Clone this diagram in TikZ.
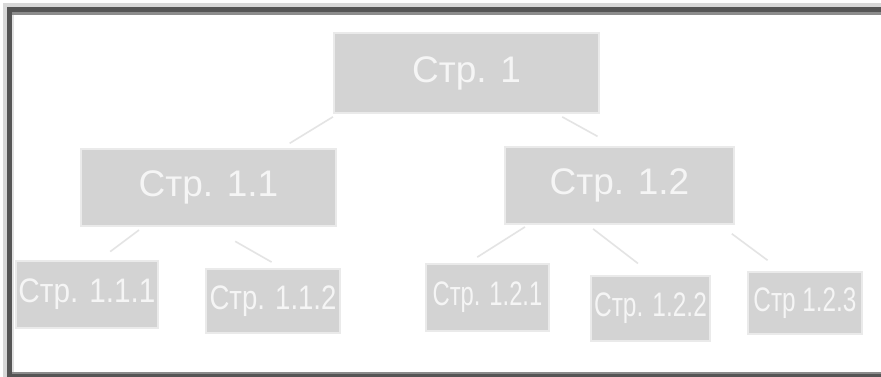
\documentclass[tikz,border=0pt]{standalone}
\usepackage{fontspec}
\usepackage{graphicx}
\setmainfont{Liberation Sans}
\usetikzlibrary{calc}

\definecolor{boxfill}{HTML}{D3D3D3}
\definecolor{boxedge}{HTML}{EAEAEA}
\definecolor{linkcol}{HTML}{E4E4E4}
\definecolor{framedark}{HTML}{555555}
\definecolor{framemid}{HTML}{8C8C8C}
\definecolor{framelight}{HTML}{D8D8D8}

% horizontally condensed label
\newcommand{\narrowtxt}[2]{\scalebox{#1}[1]{#2}}

\tikzset{
  page/.style={fill=boxfill, draw=boxedge, line width=2pt, inner sep=0pt,
               anchor=north west, text=white!96!black},
  bigpage/.style={page, font=\fontsize{37}{37}\selectfont},
  smallpage/.style={page, font=\fontsize{34}{34}\selectfont},
  link/.style={draw=linkcol, line width=1.6pt},
}

\begin{document}
\begin{tikzpicture}[x=1pt, y=-1pt]
  \useasboundingbox (0,0) rectangle (881,377);
  \fill[white] (0,0) rectangle (881,377);

  % sunken frame
  \fill[framelight] (3,3) rectangle (881,7);
  \fill[framelight] (3,3) rectangle (7,377);
  \fill[framedark] (7,7) rectangle (881,12);
  \fill[framedark] (7,7) rectangle (12,377);
  \fill[framemid] (12,12) rectangle (881,15);
  \fill[framelight!80!white] (12,15) rectangle (14,372);
  \fill[framemid] (12,372) rectangle (881,374);
  \fill[framedark] (12,374) rectangle (881,377);

  % page boxes
  \node[bigpage, minimum width=265pt, minimum height=80pt] (n1) at (333,32) {Стр. 1};
  \node[bigpage, minimum width=255pt, minimum height=77pt] (n11) at (80,148) {Стр. 1.1};
  \node[bigpage, minimum width=229pt, minimum height=77pt] (n12) at (504,146) {Стр. 1.2};

  \node[smallpage, minimum width=142pt, minimum height=67pt] (n111) at (15,260) {\narrowtxt{0.875}{Стр. 1.1.1}};
  \node[smallpage, minimum width=134pt, minimum height=64pt] (n112) at (205,268) {\narrowtxt{0.81}{Стр. 1.1.2}};
  \node[smallpage, minimum width=123pt, minimum height=67pt] (n121) at (425,263) {\narrowtxt{0.70}{Стр. 1.2.1}};
  \node[smallpage, minimum width=119pt, minimum height=65pt] (n122) at (590,275) {\narrowtxt{0.72}{Стр. 1.2.2}};
  \node[smallpage, minimum width=114pt, minimum height=62pt] (n123) at (747,271) {\narrowtxt{0.715}{Стр 1.2.3}};

  % connectors (short segments between the boxes)
  \draw[link, shorten <=5.5pt, shorten >=9pt]
    ([xshift=4.6pt]n1.south west) -- ([xshift=202pt]n11.north west);
  \draw[link, shorten <=6pt, shorten >=20pt]
    ([xshift=224pt]n1.south west) -- ([xshift=111pt]n12.north west);
  \draw[link, shorten <=5pt, shorten >=14pt]
    ([xshift=63pt]n11.south west) -- ([xshift=84pt]n111.north west);
  \draw[link, shorten <=29pt, shorten >=12pt]
    ([xshift=130pt]n11.south west) -- ([xshift=77pt]n112.north west);
  \draw[link, shorten <=3.6pt, shorten >=11pt]
    ([xshift=24pt]n12.south west) -- ([xshift=43pt]n121.north west);
  \draw[link, shorten <=6.4pt, shorten >=19pt]
    ([xshift=84pt]n12.south west) -- ([xshift=63pt]n122.north west);
  \draw[link, shorten <=14.7pt, shorten >=18pt]
    ([xshift=216pt]n12.south west) -- ([xshift=35pt]n123.north west);
\end{tikzpicture}
\end{document}
